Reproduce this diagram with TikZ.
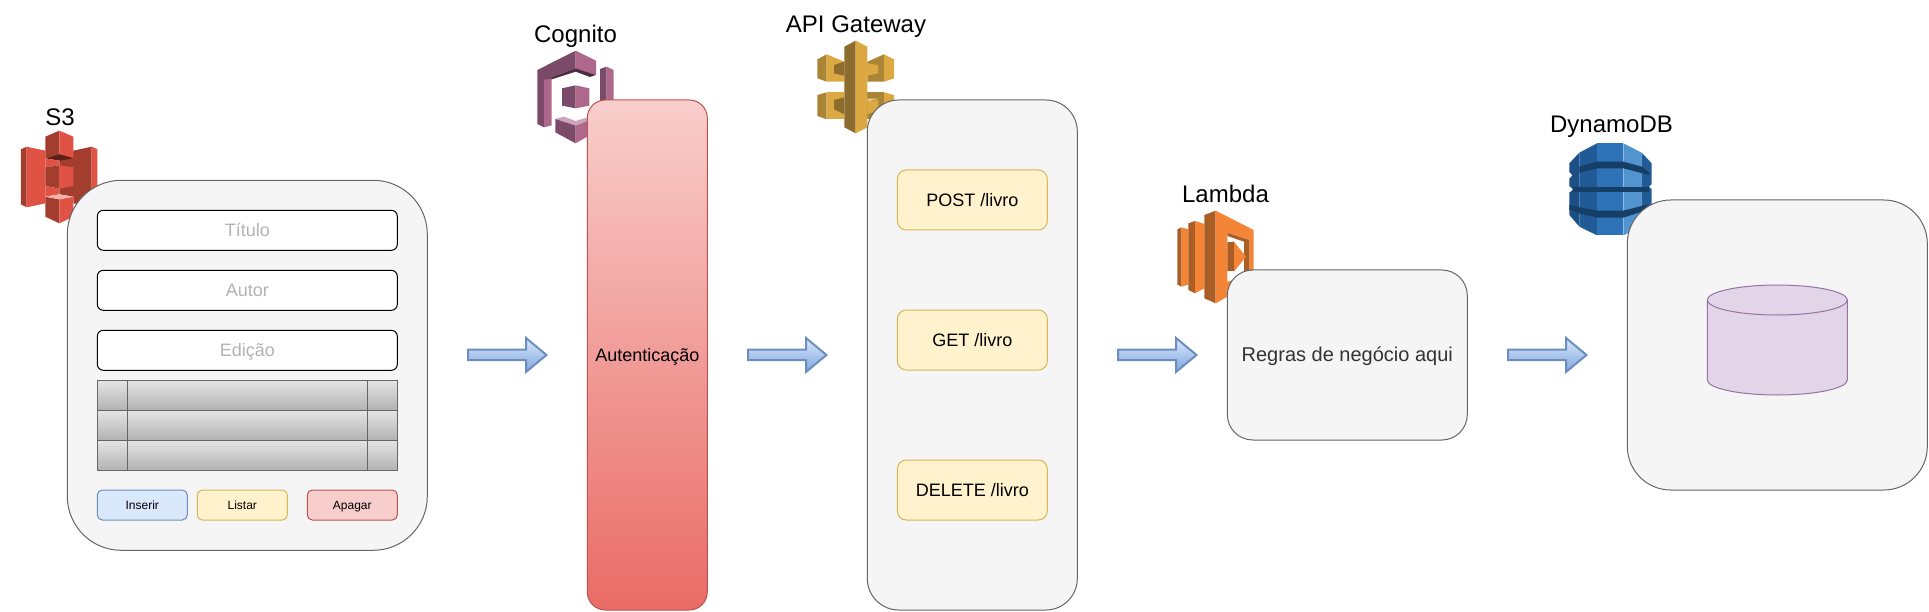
\documentclass[tikz,border=0pt]{standalone}
\usepackage{fontspec}
\setmainfont{Liberation Sans}
\definecolor{panelfill}{HTML}{F5F5F5}
\definecolor{panelline}{HTML}{666666}
\definecolor{yfill}{HTML}{FFF2CC}\definecolor{yline}{HTML}{D6B656}
\definecolor{bfill}{HTML}{DAE8FC}\definecolor{bline}{HTML}{6C8EBF}
\definecolor{rfill}{HTML}{F8CECC}\definecolor{rline}{HTML}{B85450}
\definecolor{rend}{HTML}{EA6B66}
\definecolor{arrowend}{HTML}{7EA6E0}
\definecolor{pfill}{HTML}{E1D5E7}\definecolor{pline}{HTML}{9673A6}
\definecolor{hinttext}{HTML}{B3B3B3}
\definecolor{sL}{HTML}{E05243}\definecolor{sM}{HTML}{A33D2E}\definecolor{sX}{HTML}{5E1F18}\definecolor{sH}{HTML}{F2B0A9}
\definecolor{cL}{HTML}{AD688B}\definecolor{cD}{HTML}{7A4A68}\definecolor{cX}{HTML}{4D2C41}\definecolor{cH}{HTML}{CFA4BB}
\definecolor{gL}{HTML}{DBA841}\definecolor{gD}{HTML}{8C6D2E}\definecolor{gM}{HTML}{A98535}\definecolor{gH}{HTML}{EBCB85}
\definecolor{lL}{HTML}{F58536}\definecolor{lD}{HTML}{AB5D26}
\definecolor{dA}{HTML}{205B98}\definecolor{dB}{HTML}{2E73B8}\definecolor{dC}{HTML}{5294CF}\definecolor{dX}{HTML}{153F66}\definecolor{dE}{HTML}{1C4F85}
\tikzset{
  base/.style={draw,line width=1pt,inner sep=0pt,outer sep=0pt,font=\fontsize{18}{20}\selectfont,align=center,text height=16.3pt,text depth=3.8pt},
  panel/.style={base,fill=panelfill,draw=panelline},
  field/.style={base,fill=white,draw=black,text=hinttext,rounded corners=6pt,minimum width=300pt,minimum height=40pt},
  cell/.style={base,draw=panelline,top color=black!10,bottom color=black!30,minimum height=30pt},
  route/.style={base,fill=yfill,draw=yline,rounded corners=9pt,minimum width=150pt,minimum height=60pt},
  btn/.style={base,rounded corners=5pt,minimum width=90pt,minimum height=30pt,font=\fontsize{12}{14}\selectfont,text height=10.9pt,text depth=2.5pt},
  title/.style={inner sep=0pt,font=\fontsize{24}{26}\selectfont,text height=21.7pt,text depth=5.1pt},
  flow/.style={draw=bline,line width=2pt,top color=bfill,bottom color=arrowend,line join=miter},
  zoomed/.style={x=0.33333pt,y=-0.33333pt},
}
\newcommand{\blockarrow}[1]{\shade[flow,shift={(#1,0)}] (0.5,349.5) -- (58.5,349.5) -- (58.5,338) -- (79,355) -- (58.5,372) -- (58.5,360) -- (0.5,360) -- cycle;}
\begin{document}
\begin{tikzpicture}[x=1pt,y=-1pt]
\useasboundingbox (0,0) rectangle (1929,612);
% S3 icon
\begin{scope}[shift={(0,90)},zoomed]
\fill[sM] (63,178)--(80,170)--(80,352)--(63,343)--cycle;
\fill[sL] (80,170)--(136,182)--(136,340)--(80,352)--cycle;
\fill[sM] (178,200)--(220,182)--(275,170)--(275,352)--(220,340)--(220,320)--(178,313)--cycle;
\fill[sL] (275,170)--(292,178)--(292,343)--(275,352)--cycle;
\fill[sM] (136,140)--(178,122)--(178,192)--(136,205)--cycle;
\fill[sL] (178,122)--(220,140)--(220,205)--(178,192)--cycle;
\fill[sX] (136,205)--(178,192)--(220,205)--(178,212)--cycle;
\fill[sL] (136,205)--(178,212)--(178,226)--(136,232)--cycle;
\fill[sM] (136,232)--(178,226)--(178,296)--(136,288)--cycle;
\fill[sL] (178,226)--(220,232)--(220,288)--(178,296)--cycle;
\fill[sL] (136,288)--(178,296)--(178,313)--(136,320)--cycle;
\fill[sM] (136,320)--(178,328)--(178,400)--(136,380)--cycle;
\fill[sL] (178,328)--(220,320)--(220,380)--(178,400)--cycle;
\fill[sH] (136,320)--(178,313)--(220,320)--(178,328)--cycle;
\end{scope}
% Cognito icon
\begin{scope}[shift={(510,20)},zoomed]
\fill[cD] (82,150)--(197,92)--(197,145)--(102,180)--(102,322)--(82,312)--cycle;
\fill[cL] (197,92)--(258,122)--(258,165)--(197,145)--cycle;
\fill[cX] (102,180)--(197,145)--(258,165)--(240,171)--(197,155)--(125,178)--cycle;
\fill[cL] (102,180)--(125,175)--(125,316)--(102,322)--cycle;
\fill[cD] (270,147)--(290,140)--(290,250)--(270,255)--cycle;
\fill[cL] (290,140)--(311,150)--(311,250)--(290,250)--cycle;
\fill[cD] (156,205)--(197,196)--(197,265)--(156,257)--cycle;
\fill[cL] (197,196)--(238,205)--(238,257)--(197,265)--cycle;
\fill[cH] (136,297)--(162,290)--(197,303)--(240,290)--(240,300)--(197,317)--cycle;
\fill[cD] (136,297)--(197,317)--(197,370)--(136,337)--cycle;
\fill[cL] (197,317)--(240,300)--(240,345)--(197,370)--cycle;
\end{scope}
% API Gateway icon
\begin{scope}[shift={(790,20)},zoomed]
\fill[gM] (82,118)--(110,103)--(110,185)--(82,175)--cycle;
\fill[gL] (110,103)--(163,125)--(163,185)--(110,185)--cycle;
\fill[gD] (132,135)--(163,125)--(163,167)--(132,160)--cycle;
\fill[gM] (232,125)--(282,103)--(282,185)--(232,185)--cycle;
\fill[gL] (282,103)--(312,118)--(312,175)--(282,185)--cycle;
\fill[gL] (232,130)--(265,135)--(265,160)--(232,167)--cycle;
\fill[gM] (82,225)--(110,217)--(110,298)--(82,288)--cycle;
\fill[gL] (110,217)--(163,217)--(163,298)--(110,298)--cycle;
\fill[gD] (132,240)--(163,232)--(163,283)--(132,268)--cycle;
\fill[gM] (232,217)--(282,217)--(282,298)--(232,298)--cycle;
\fill[gL] (282,217)--(312,225)--(312,288)--(282,298)--cycle;
\fill[gH] (232,236)--(265,236)--(232,245)--cycle;
\fill[gL] (232,245)--(265,240)--(265,270)--(232,283)--cycle;
\fill[gD] (163,80)--(197,62)--(197,340)--(163,322)--cycle;
\fill[gL] (197,62)--(232,80)--(232,322)--(197,340)--cycle;
\end{scope}
% Lambda icon
\begin{scope}[shift={(1160,190)},zoomed]
\fill[lD] (52,118)--(65,112)--(65,290)--(52,284)--cycle;
\fill[lL] (65,112)--(85,118)--(85,284)--(65,290)--cycle;
\fill[lD] (85,100)--(105,93)--(105,310)--(85,300)--cycle;
\fill[lL] (105,93)--(133,102)--(133,295)--(105,310)--cycle;
\fill[lD] (133,75)--(167,62)--(167,340)--(133,325)--cycle;
\fill[lL] (167,62)--(281,120)--(281,275)--(167,340)--cycle;
\fill[white] (202,128)--(268,150)--(268,255)--(202,275)--cycle;
\fill[lD] (202,128)--(268,150)--(268,245)--(252,245)--(252,155)--(202,138)--cycle;
\fill[lD] (202,157)--(222,155)--(222,243)--(202,243)--cycle;
\fill[lL] (222,155)--(258,200)--(222,245)--cycle;
\end{scope}
% DynamoDB icon
\begin{scope}[shift={(1550,130)},zoomed]
\fill[dE] (58,100)--(88,68)--(88,290)--(58,255)--cycle;
\fill[dA] (88,68)--(141,40)--(141,316)--(88,290)--cycle;
\fill[dB] (141,40)--(220,40)--(220,316)--(141,316)--cycle;
\fill[dC] (220,40)--(275,68)--(275,290)--(220,316)--cycle;
\fill[dA] (275,68)--(305,100)--(305,255)--(275,290)--cycle;
\fill[dX] (88,110)--(141,95)--(220,95)--(275,110)--(298,128)--(298,135)--(220,115)--(141,115)--(88,128)--cycle;
\fill[dX] (68,170)--(298,170)--(298,186)--(68,186)--cycle;
\fill[dX] (58,225)--(88,232)--(141,242)--(220,242)--(298,222)--(275,245)--(220,263)--(141,263)--(88,250)--(58,240)--cycle;
\fill[white] (56,128)--(60,128)--(66,136)--(60,144)--(56,144)--cycle;
\fill[white] (56,170)--(60,170)--(68,178)--(60,186)--(56,186)--cycle;
\fill[white] (307,164)--(303,164)--(298,170)--(303,176)--(307,176)--cycle;
\end{scope}
% Titles
\node[title] (ts3) at (60,117.4) {S3};
\node[title] (tcog) at (575.5,34) {Cognito};
\node[title] (tapi) at (856,24.4) {API Gateway};
\node[title] (tlam) at (1225.5,194.4) {Lambda};
\node[title] (tdyn) at (1611.5,124.3) {DynamoDB};
% S3 panel
\node[panel,rounded corners=54pt,minimum width=360pt,minimum height=370pt] (front) at (247.3,365.3) {};
\node[field] (f1) at (247.3,230.3) {Título};
\node[field] (f2) at (247.3,290.3) {Autor};
\node[field] (f3) at (247.3,350.3) {Edição};
\foreach \r/\yy in {1/395,2/425,3/455}{
  \node[cell,minimum width=30pt] (a\r) at (112.3,\yy) {};
  \node[cell,minimum width=240pt] (b\r) at (247.3,\yy) {};
  \node[cell,minimum width=30pt] (c\r) at (382.3,\yy) {};
}
\node[btn,fill=bfill,draw=bline] (ins) at (142.3,505) {Inserir};
\node[btn,fill=yfill,draw=yline] (lst) at (242.3,505) {Listar};
\node[btn,fill=rfill,draw=rline] (apg) at (352.3,505) {Apagar};
% Auth
\node[base,draw=rline,top color=rfill,bottom color=rend,rounded corners=18pt,minimum width=120pt,minimum height=510pt] (auth) at (647.3,355) {Autenticação};
% API
\node[panel,rounded corners=31.5pt,minimum width=210pt,minimum height=510pt] (api) at (972.3,355) {};
\node[route] (post) at (972.3,200) {POST /livro};
\node[route] (get) at (972.3,340) {GET /livro};
\node[route] (del) at (972.3,490) {DELETE /livro};
% Lambda
\node[panel,text=black!80,rounded corners=25.5pt,minimum width=240pt,minimum height=170pt,font=\fontsize{20}{22}\selectfont,text height=18.1pt,text depth=4.2pt] (lam) at (1347.3,355) {Regras de negócio aqui};
% Dynamo
\node[panel,rounded corners=43.5pt,minimum width=300pt,minimum height=290pt] (dyn) at (1777.3,345) {};
\draw[line width=1pt,draw=pline,fill=pfill] (1707.3,300) -- (1707.3,380) arc[start angle=180,end angle=360,x radius=70pt,y radius=15pt] -- (1847.3,300) arc[start angle=0,end angle=180,x radius=70pt,y radius=15pt] -- cycle;
\draw[line width=1pt,draw=pline] (1707.3,300) arc[start angle=180,end angle=360,x radius=70pt,y radius=15pt];
% Arrows
\blockarrow{467.5}
\blockarrow{747.5}
\blockarrow{1117.5}
\blockarrow{1507.5}
\end{tikzpicture}
\end{document}
